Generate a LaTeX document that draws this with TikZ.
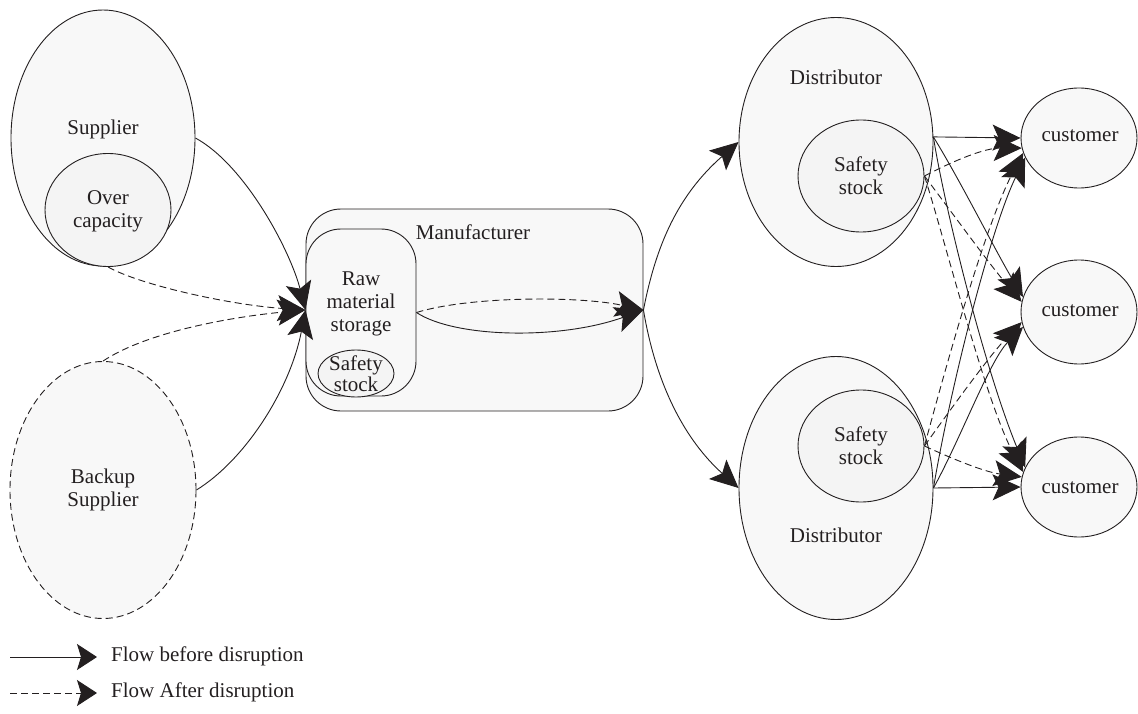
\documentclass[tikz,border=0pt]{standalone}
\usepackage{fontspec}
\setmainfont{Liberation Serif}
\usetikzlibrary{shapes.geometric,arrows.meta}
\definecolor{shapefill}{HTML}{F8F8F8}
\definecolor{innerfill}{HTML}{F4F4F4}
\definecolor{ink}{HTML}{231F20}
\begin{document}
\begin{tikzpicture}[x=1pt,y=-1pt,
  shp/.style={draw=ink, line width=0.9pt, fill=shapefill, inner sep=0pt},
  oval/.style={shp, ellipse},
  inoval/.style={oval, fill=innerfill},
  lbl/.style={align=center, inner sep=0pt, font=\fontsize{21}{23}\selectfont, text=ink},
  flow/.style={draw=ink, line width=0.9pt, -{Stealth[length=28pt,width=26pt,inset=6pt]}},
  after/.style={flow, dash pattern=on 7pt off 4pt},
  legflow/.style={draw=ink, line width=0.9pt, -{Stealth[length=20pt,width=26pt,inset=4pt]}},
]
\useasboundingbox (0,0) rectangle (1138,714);

% suppliers
\node[oval, minimum width=184pt, minimum height=256pt] (sup) at (103,138) {};
\node[inoval, minimum width=126pt, minimum height=113pt] (ovc) at (108,210) {};
\node[lbl] (supt) at (103,129) {Supplier};
\node[lbl] (ovct) at (108,211) {Over\\capacity};
\node[oval, dash pattern=on 7pt off 4pt, minimum width=186pt, minimum height=257pt] (bak) at (103,490) {};
\node[lbl] (bakt) at (103,490) {Backup\\Supplier};

% manufacturer
\node[shp, rectangle, rounded corners=35pt, minimum width=337pt, minimum height=202pt] (mfr) at (474.5,310) {};
\node[lbl] (mfrt) at (473,232) {Manufacturer};
\node[shp, rectangle, rounded corners=35pt, minimum width=110pt, minimum height=167pt] (raw) at (361,312.5) {};
\node[lbl] (rawt) at (361,304) {Raw\\material\\storage};
\node[inoval, minimum width=76pt, minimum height=47pt] (rss) at (356,373.5) {};
\node[lbl, font=\fontsize{21}{21}\selectfont] (rsst) at (356,374) {Safety\\stock};

% distributors
\node[oval, minimum width=194pt, minimum height=249pt] (d1) at (836,142) {};
\node[lbl] (d1t) at (836,77) {Distributor};
\node[inoval, minimum width=126pt, minimum height=112pt] (ss1) at (861,176) {};
\node[lbl] (ss1t) at (861,176) {Safety\\stock};

\node[oval, minimum width=194pt, minimum height=263pt] (d2) at (836,488) {};
\node[lbl] (d2t) at (836,535) {Distributor};
\node[inoval, minimum width=126pt, minimum height=112pt] (ss2) at (861,446) {};
\node[lbl] (ss2t) at (861,446) {Safety\\stock};

% customers
\node[oval, minimum width=116pt, minimum height=100pt] (c1) at (1079,138) {};
\node[lbl] (c1t) at (1080,136) {customer};
\node[oval, minimum width=116pt, minimum height=104pt] (c2) at (1079,312) {};
\node[lbl] (c2t) at (1080,311) {customer};
\node[oval, minimum width=116pt, minimum height=100pt] (c3) at (1079,487) {};
\node[lbl] (c3t) at (1080,488) {customer};

% suppliers -> manufacturer
\draw[flow] (sup.east) .. controls (245,165) and (290,250) .. (mfr.west);
\draw[flow] (bak.east) .. controls (245,460) and (290,390) .. (mfr.west);
\draw[after] (ovc.south) .. controls (140,285) and (230,305) .. (mfr.west);
\draw[after] (bak.north) .. controls (150,330) and (240,316) .. (mfr.west);

% inside manufacturer
\draw[after] (raw.east) .. controls (470,296) and (580,296) .. (mfr.east);
\draw[flow] (raw.east) .. controls (455,338) and (560,340) .. (mfr.east);

% manufacturer -> distributors
\draw[flow] (mfr.east) .. controls (656,245) and (678,195) .. (d1.west);
\draw[flow] (mfr.east) .. controls (656,385) and (685,440) .. (d2.west);

% distributor 1 -> customers
\draw[flow] (d1.3) -- (c1.west);
\draw[flow] (d1.3) .. controls (960,180) and (995,250) .. (c2.165);
\draw[flow] (d1.3) .. controls (945,210) and (985,370) .. (c3.160);
\draw[after] (ss1.east) .. controls (955,160) and (985,148) .. (c1.190);
\draw[after] (ss1.east) .. controls (950,210) and (990,265) .. (c2.170);
\draw[after] (ss1.east) .. controls (945,240) and (985,400) .. (c3.165);

% distributor 2 -> customers
\draw[flow] (d2.east) -- (c3.west);
\draw[flow] (d2.east) .. controls (960,440) and (990,360) .. (c2.195);
\draw[flow] (d2.east) .. controls (950,390) and (990,230) .. (c1.200);
\draw[after] (ss2.east) .. controls (955,460) and (985,472) .. (c3.170);
\draw[after] (ss2.east) .. controls (950,410) and (990,355) .. (c2.190);
\draw[after] (ss2.east) .. controls (945,370) and (985,225) .. (c1.195);

% legend
\coordinate (lg1) at (10,657);
\coordinate (lg2) at (10,693);
\node[lbl, anchor=west] (lt1) at (111,656) {Flow before disruption};
\node[lbl, anchor=west] (lt2) at (111,692) {Flow After disruption};
\draw[legflow] (lg1) -- ([xshift=-14pt]lt1.west |- lg1);
\draw[legflow, dash pattern=on 7pt off 4pt] (lg2) -- ([xshift=-14pt]lt2.west |- lg2);
\end{tikzpicture}
\end{document}
